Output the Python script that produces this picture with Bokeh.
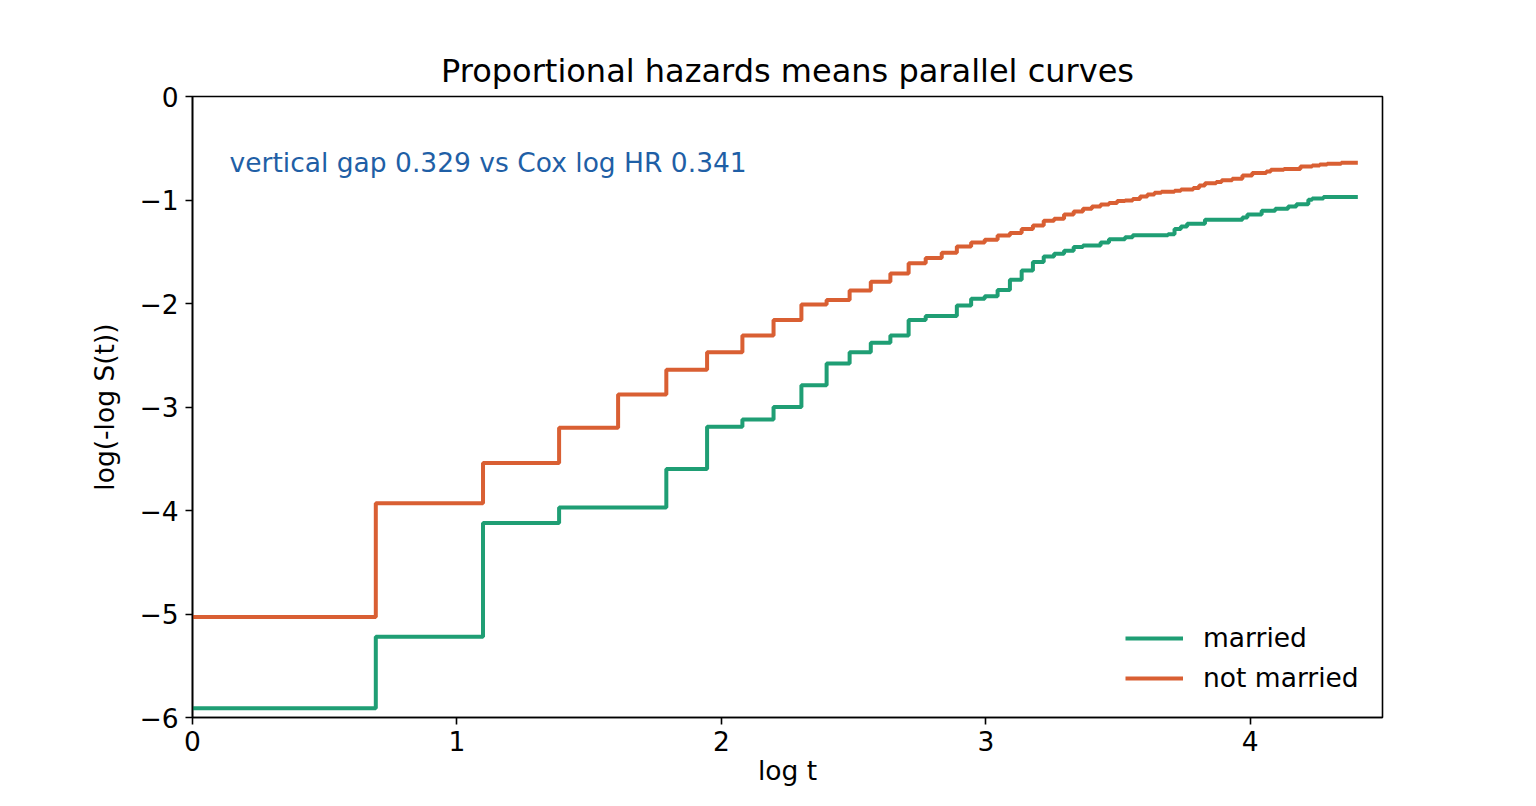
import numpy as np
from bokeh.plotting import figure
from bokeh.models import Legend, LegendItem, Label, FixedTicker, Range1d
from bokeh.embed import file_html
from bokeh.resources import INLINE

# Event times (t) at which the curves step, and log(-log S(t))
married_t = [1, 2, 3, 4, 6, 7, 8, 9, 10, 11, 12, 13, 14, 15, 16, 18, 19, 20, 21, 22,
             23, 24, 25, 26, 27, 28, 29, 31, 32, 34, 35, 40, 41, 42, 43, 46, 53, 54,
             57, 60, 63, 65, 68, 69, 72, 82]
married_y = [-5.91, -5.22, -4.12, -3.97, -3.60, -3.19, -3.12, -3.00, -2.79, -2.58,
             -2.47, -2.38, -2.31, -2.16, -2.12, -2.02, -1.955, -1.93, -1.87, -1.77,
             -1.68, -1.60, -1.546, -1.52, -1.49, -1.455, -1.44, -1.41, -1.38, -1.36,
             -1.34, -1.33, -1.28, -1.256, -1.23, -1.19, -1.17, -1.14, -1.105, -1.085,
             -1.063, -1.04, -0.998, -0.985, -0.972, -0.972]

not_married_t = [1, 2, 3, 4, 5, 6, 7, 8, 9, 10, 11, 12, 13, 14, 15, 16, 17, 18, 19, 20,
                 21, 22, 23, 24, 25, 26, 27, 28, 29, 30, 31, 32, 33, 34, 35, 36, 37, 38,
                 39, 41, 42, 44, 45, 46, 48, 49, 51, 53, 55, 58, 59, 62, 66, 69, 71, 73,
                 77, 82]
not_married_y = [-5.03, -3.93, -3.54, -3.20, -2.88, -2.64, -2.47, -2.31, -2.16, -2.01,
                 -1.965, -1.875, -1.79, -1.71, -1.61, -1.56, -1.51, -1.45, -1.41, -1.385,
                 -1.343, -1.32, -1.28, -1.246, -1.20, -1.18, -1.14, -1.11, -1.085, -1.063,
                 -1.043, -1.03, -1.01, -1.005, -0.99, -0.966, -0.947, -0.93, -0.92, -0.91,
                 -0.898, -0.885, -0.86, -0.837, -0.827, -0.81, -0.795, -0.763, -0.74,
                 -0.725, -0.708, -0.70, -0.676, -0.667, -0.657, -0.65, -0.64, -0.64]

x_ticks = [0, 1, 2, 3, 4]
y_ticks = [-6, -5, -4, -3, -2, -1, 0]

title_text = "Proportional hazards means parallel curves"
annot_text = "vertical gap 0.329 vs Cox log HR 0.341"
x_label = "log t"
y_label = "log(-log S(t))"
labels = ["married", "not married"]
colors = ["#1f9e74", "#d95f33"]

FONT = "DejaVu Sans"
FS = "26.5px"

p = figure(width=1520, height=790, output_backend="svg", toolbar_location=None,
           x_range=Range1d(0, 4.5), y_range=Range1d(-6, 0),
           min_border_left=192, min_border_right=138, min_border_top=96,
           min_border_bottom=73)

p.title.text = title_text
p.title.align = "center"
p.title.text_font = FONT
p.title.text_font_size = "32px"
p.title.text_font_style = "normal"
p.title.text_color = "black"
p.title.standoff = 14

p.grid.visible = False
p.background_fill_color = "white"
p.border_fill_color = "white"
p.outline_line_color = "black"
p.outline_line_width = 1.6

for ax in (p.xaxis[0], p.yaxis[0]):
    ax.axis_line_width = 1.6
    ax.major_tick_line_width = 1.6
    ax.major_tick_out = 7
    ax.major_tick_in = 0
    ax.minor_tick_line_color = None
    ax.major_label_text_font = FONT
    ax.major_label_text_font_size = FS
    ax.major_label_text_color = "black"
    ax.axis_label_text_font = FONT
    ax.axis_label_text_font_size = FS
    ax.axis_label_text_font_style = "normal"
    ax.axis_label_text_color = "black"
    ax.major_label_standoff = 7

p.xaxis.ticker = FixedTicker(ticks=x_ticks)
p.yaxis.ticker = FixedTicker(ticks=y_ticks)
p.yaxis.major_label_overrides = {v: (("\u2212" + str(-v)) if v < 0 else str(v)) for v in y_ticks}
p.xaxis.axis_label = x_label
p.yaxis.axis_label = y_label
p.xaxis.major_label_standoff = 6
p.xaxis.axis_label_standoff = 1
p.yaxis.axis_label_standoff = 16

r1 = p.step(np.log(married_t), married_y, mode="after", line_color=colors[0], line_width=4)
r2 = p.step(np.log(not_married_t), not_married_y, mode="after", line_color=colors[1], line_width=4)

legend = Legend(items=[LegendItem(label=labels[0], renderers=[r1]),
                       LegendItem(label=labels[1], renderers=[r2])],
                location=(933, 24), padding=0, margin=0, spacing=9,
                glyph_width=58, glyph_height=30, label_height=30,
                label_standoff=20, border_line_color=None,
                background_fill_alpha=0,
                label_text_font=FONT, label_text_font_size=FS,
                label_text_color="black")
p.add_layout(legend, "center")

p.add_layout(Label(x=0.14, y=-0.64, text=annot_text, text_font=FONT,
                   text_font_size=FS, text_color="#1f5fa6",
                   text_baseline="alphabetic", text_align="left"))

open("out.html", "w").write(file_html(p, INLINE))
